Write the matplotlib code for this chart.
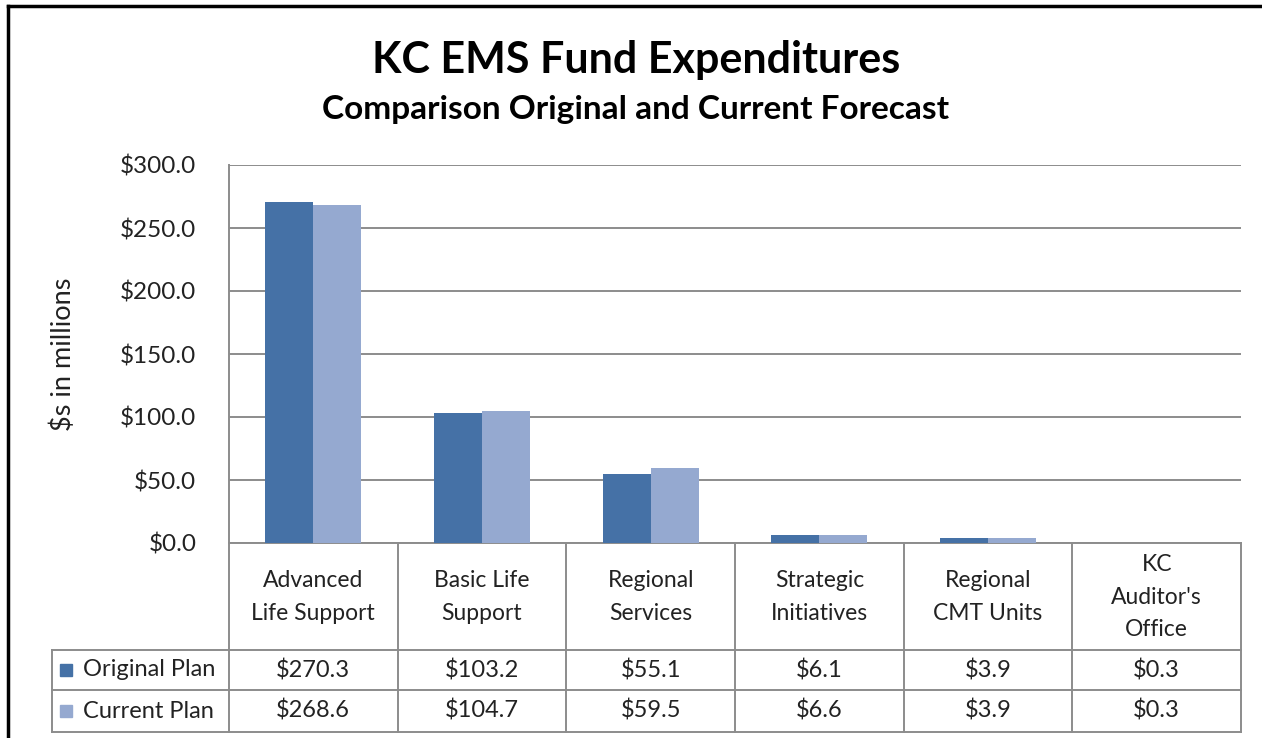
import matplotlib.pyplot as plt
import numpy as np
from matplotlib.lines import Line2D
from matplotlib.patches import Rectangle

plt.rcParams['font.family'] = ['Lato', 'DejaVu Sans']

categories = ["Advanced\nLife Support", "Basic Life\nSupport", "Regional\nServices",
              "Strategic\nInitiatives", "Regional\nCMT Units", "KC\nAuditor's\nOffice"]
series_names = ["Original Plan", "Current Plan"]
original_plan = [270.3, 103.2, 55.1, 6.1, 3.9, 0.3]
current_plan = [268.6, 104.7, 59.5, 6.6, 3.9, 0.3]
yticks = [0, 50, 100, 150, 200, 250, 300]

colors = ['#4571A6', '#95A9D0']
grid_c = '#8C8C8C'
txt_c = '#222222'
W, H = 1262, 738

fig = plt.figure(figsize=(W / 100, H / 100), dpi=100)
fig.patch.set_facecolor('white')

# plot area in pixels: x 229..1241, y 165..543
x0, x1, ytop, ybot = 229, 1241, 165, 543
ax = fig.add_axes([x0 / W, 1 - ybot / H, (x1 - x0) / W, (ybot - ytop) / H])

n = len(categories)
x = np.arange(n)
bw = 0.285
ax.bar(x - bw / 2, original_plan, bw, color=colors[0], zorder=3)
ax.bar(x + bw / 2, current_plan, bw, color=colors[1], zorder=3)

ax.set_xlim(-0.5, n - 0.5)
ax.set_ylim(0, 300)
ax.set_yticks(yticks)
ax.set_yticklabels([f"${v:.1f}" for v in yticks], fontsize=17.5, color=txt_c)
ax.tick_params(axis='y', length=0, pad=23.5)
ax.set_xticks([])
ax.yaxis.grid(True, color=grid_c, lw=1.4, zorder=0)
for s in ['top', 'right', 'bottom']:
    ax.spines[s].set_visible(False)
ax.spines['left'].set_color(grid_c)
ax.spines['left'].set_linewidth(1.4)
fig.text(63 / W, 1 - 354 / H, "$s in millions", rotation=90, ha='center', va='center',
         fontsize=19.5, color=txt_c)

# data table below the axes, in axes coordinates
axh = ybot - ytop
axw = x1 - x0
def ay(py):
    return -(py - ybot) / axh
def axx(px):
    return (px - x0) / axw

y_hdr, y_r1, y_r2 = ay(650), ay(690), ay(732)
x_leg = axx(52)
lkw = dict(color=grid_c, lw=1.4, transform=ax.transAxes, clip_on=False)

bounds = np.linspace(0, 1, n + 1)
for b in bounds:
    ax.add_line(Line2D([b, b], [0, y_r2], **lkw))
ax.add_line(Line2D([x_leg, x_leg], [y_hdr, y_r2], **lkw))
for yy in (y_hdr, y_r1, y_r2):
    ax.add_line(Line2D([x_leg, 1], [yy, yy], **lkw))
ax.add_line(Line2D([0, 1], [0, 0], **lkw))

for i, cat in enumerate(categories):
    cx = (bounds[i] + bounds[i + 1]) / 2
    ax.text(cx, ay(597), cat, transform=ax.transAxes, ha='center', va='center',
            fontsize=16.5, color=txt_c, linespacing=1.7)
    for vals, ry in ((original_plan, (y_hdr + y_r1) / 2), (current_plan, (y_r1 + y_r2) / 2)):
        ax.text(cx, ry, f"${vals[i]:.1f}", transform=ax.transAxes, ha='center', va='center',
                fontsize=17, color=txt_c)

for name, c, (ya, yb) in zip(series_names, colors, ((y_hdr, y_r1), (y_r1, y_r2))):
    ym = (ya + yb) / 2
    sq = 12 / axh
    ax.add_patch(Rectangle((axx(60), ym - sq / 2), 12 / axw, sq, color=c,
                           transform=ax.transAxes, clip_on=False))
    ax.text(axx(83), ym, name, transform=ax.transAxes, ha='left', va='center',
            fontsize=17, color=txt_c)

# titles
fig.text(636 / W, 1 - 60 / H, "KC EMS Fund Expenditures", ha='center', va='center',
         fontsize=31, fontweight='bold', color='black')
fig.text(636 / W, 1 - 110 / H, "Comparison Original and Current Forecast", ha='center',
         va='center', fontsize=24, fontweight='bold', color='black')

# outer frame (top and left edges visible)
fig.add_artist(Line2D([8 / W, 1], [1 - 6 / H, 1 - 6 / H], color='black', lw=2.5,
                      transform=fig.transFigure))
fig.add_artist(Line2D([8 / W, 8 / W], [0, 1 - 6 / H], color='black', lw=2.5,
                      transform=fig.transFigure))

fig.savefig('out.png', dpi=100, facecolor='white')
